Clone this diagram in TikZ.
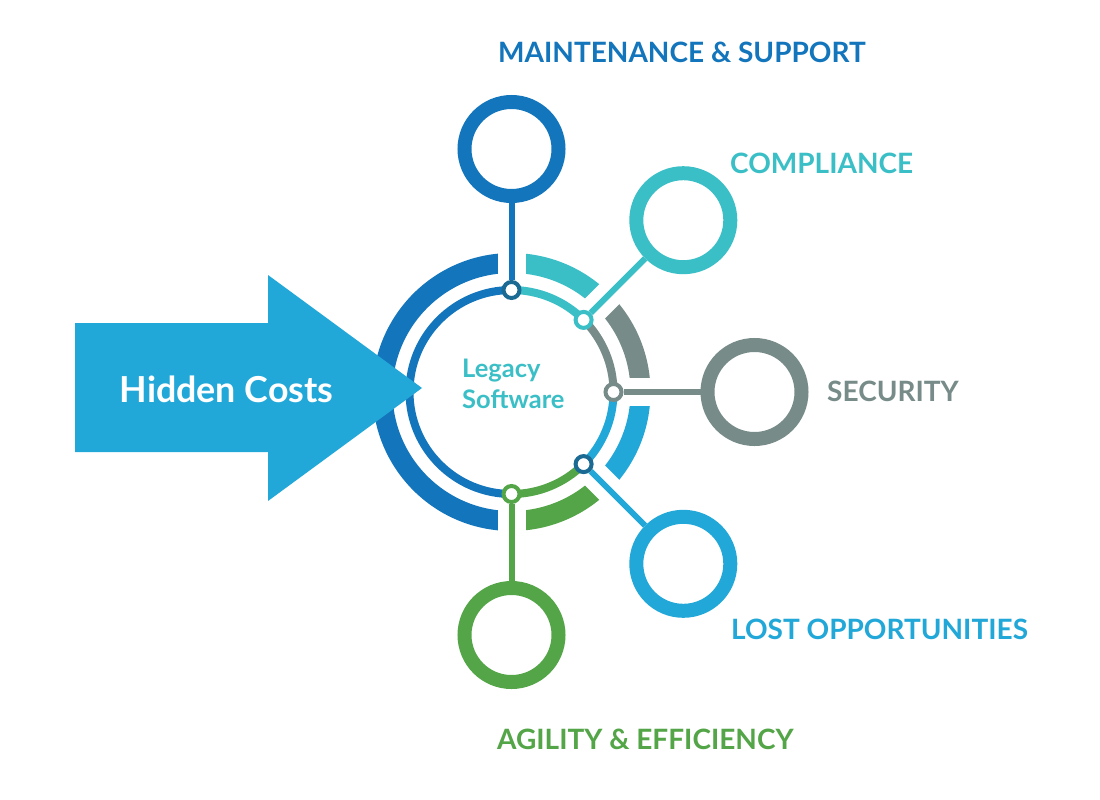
\documentclass[tikz,border=0pt]{standalone}
\usepackage{fontspec}
\setmainfont{Lato}
\pgfdeclarelayer{back}
\pgfdeclarelayer{lines}
\pgfsetlayers{back,lines,main}
\definecolor{cDblue}{HTML}{1375BB}
\definecolor{cTeal}{HTML}{3BBFC7}
\definecolor{cGray}{HTML}{778B89}
\definecolor{cLblue}{HTML}{22A8D8}
\definecolor{cGreen}{HTML}{53A547}
\definecolor{cNavy}{HTML}{1B6A94}
\begin{document}
\begin{tikzpicture}[x=1pt,y=-1pt,
  outerarc/.style={line width=20pt},
  innerarc/.style={line width=8pt},
  gapbar/.style={white,line width=28pt},
  conn/.style={line width=6pt},
  hub/.style={circle,draw,fill=white,line width=4pt,minimum size=16pt,inner sep=0pt},
  bubble/.style={circle,draw,fill=white,line width=14pt,minimum size=94pt,inner sep=0pt},
  lbl/.style={font=\bfseries\fontsize{28}{34}\selectfont,inner sep=0pt,anchor=base west},
  legacy/.style={font=\bfseries\fontsize{25.5}{30}\selectfont,text=cTeal,inner sep=0pt,anchor=base west},
  hidden/.style={font=\bfseries\fontsize{35.8}{42}\selectfont,inner sep=0pt,anchor=base},
]
\useasboundingbox (0,0) rectangle (1100,800);
\coordinate (c) at (511.5,392);
\begin{pgfonlayer}{back}
  \fill[white] (0,0) rectangle (1100,800);
  % outer ring
  \draw[outerarc,cDblue] (c) ++(-90:129) arc[start angle=-90,end angle=-270,radius=129];
  \draw[outerarc,cTeal]  (c) ++(-90:129) arc[start angle=-90,end angle=-45,radius=129];
  \draw[outerarc,cGray]  (c) ++(-45:129) arc[start angle=-45,end angle=0,radius=129];
  \draw[outerarc,cLblue] (c) ++(0:129) arc[start angle=0,end angle=45,radius=129];
  \draw[outerarc,cGreen] (c) ++(45:129) arc[start angle=45,end angle=90,radius=129];
  % gaps
  \foreach \a in {-90,-45,0,45,90}{
    \draw[gapbar] (c) ++(\a:112) -- ++(\a:34);
  }
  % inner ring
  \draw[innerarc,cDblue] (c) ++(-90:102) arc[start angle=-90,end angle=-270,radius=102];
  \draw[innerarc,cTeal]  (c) ++(-90:102) arc[start angle=-90,end angle=-45,radius=102];
  \draw[innerarc,cGray]  (c) ++(-45:102) arc[start angle=-45,end angle=0,radius=102];
  \draw[innerarc,cLblue] (c) ++(0:102) arc[start angle=0,end angle=45,radius=102];
  \draw[innerarc,cGreen] (c) ++(45:102) arc[start angle=45,end angle=90,radius=102];
\end{pgfonlayer}
% hubs on inner ring
\node[hub,draw=cNavy]  (s1) at (511.5,290) {};
\node[hub,draw=cTeal]  (s2) at (583.6,319.9) {};
\node[hub,draw=cGray]  (s3) at (613.5,392) {};
\node[hub,draw=cNavy]  (s4) at (583.6,464.1) {};
\node[hub,draw=cGreen] (s5) at (511.5,494) {};
% bubbles
\node[bubble,draw=cDblue] (b1) at (511.5,149) {};
\node[bubble,draw=cTeal]  (b2) at (683.3,220.2) {};
\node[bubble,draw=cGray]  (b3) at (754.5,392) {};
\node[bubble,draw=cLblue] (b4) at (683.3,563.8) {};
\node[bubble,draw=cGreen] (b5) at (511.5,635) {};
\begin{pgfonlayer}{lines}
  \draw[conn,cDblue] (s1) -- (b1);
  \draw[conn,cTeal]  (s2) -- (b2);
  \draw[conn,cGray]  (s3) -- (b3);
  \draw[conn,cLblue] (s4) -- (b4);
  \draw[conn,cGreen] (s5) -- (b5);
\end{pgfonlayer}
% labels
\node[lbl,text=cDblue] (t1) at (498,62.7) {MAINTENANCE \& SUPPORT};
\node[lbl,text=cTeal]  (t2) at (730,173.3) {COMPLIANCE};
\node[lbl,text=cGray]  (t3) at (827,401.5) {SECURITY};
\node[lbl,text=cLblue] (t4) at (731,639) {LOST OPPORTUNITIES};
\node[lbl,text=cGreen] (t5) at (497,749) {AGILITY \& EFFICIENCY};
% centre text
\node[legacy] (lg1) at (462,377) {Legacy};
\node[legacy] (lg2) at (462,408.3) {Software};
% arrow
\fill[cLblue] (75,323) -- (268,323) -- (268,275) -- (422,388) -- (268,501) -- (268,452) -- (75,452) -- cycle;
\node[hidden,text=white] (hc) at (226.5,402) {Hidden Costs};
\end{tikzpicture}
\end{document}
